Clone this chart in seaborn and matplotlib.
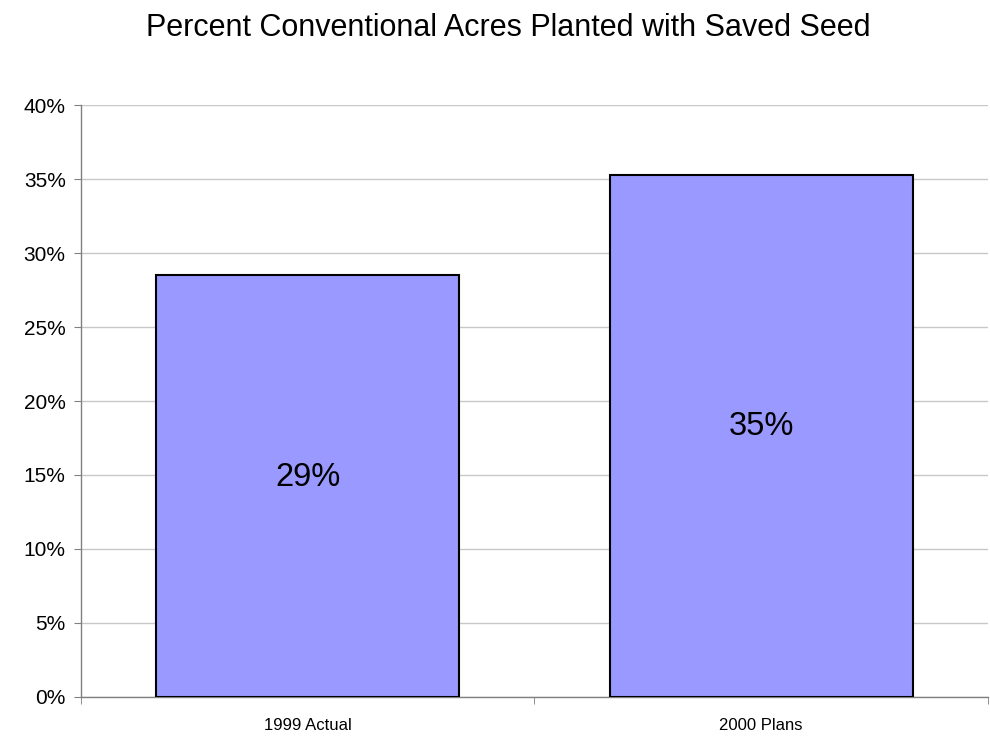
import matplotlib
matplotlib.use("Agg")
import matplotlib.pyplot as plt
import seaborn as sns
import pandas as pd
from matplotlib.ticker import PercentFormatter, FixedLocator

# Данные
categories = ["1999 Actual", "2000 Plans"]
values = [0.285, 0.353]
labels = ["29%", "35%"]

sns.set_style("white")
plt.rcParams["font.family"] = ["Liberation Sans", "DejaVu Sans"]
plt.rcParams["text.color"] = "black"
plt.rcParams["xtick.color"] = "black"
plt.rcParams["ytick.color"] = "black"

df = pd.DataFrame({"cat": categories, "val": values})

fig = plt.figure(figsize=(9.9, 7.37), dpi=100)
ax = fig.add_axes([0.0818, 0.0543, 0.916, 0.8032])

sns.barplot(data=df, x="cat", y="val", color="#9999FF", saturation=1,
            width=0.668, edgecolor="black", linewidth=1.5, ax=ax, zorder=3)

ax.set_ylim(0, 0.40)
ax.set_xlim(-0.5, 1.5)
ax.set_yticks([i * 0.05 for i in range(9)])
ax.yaxis.set_major_formatter(PercentFormatter(1.0, decimals=0))
ax.yaxis.grid(True, color="#c8c8c8", linewidth=1, zorder=0)
ax.set_axisbelow(True)

# подписи значений
for i, (v, lab) in enumerate(zip(values, labels)):
    ax.text(i, v / 2 + 0.006, lab, ha="center", va="center", fontsize=23.5, color="black")

ax.set_xlabel("")
ax.set_ylabel("")
ax.tick_params(axis="y", labelsize=15, length=5, color="#808080", labelcolor="black",
               direction="out", left=True, pad=6)
ax.tick_params(axis="x", which="major", labelsize=12, length=0, pad=15, labelcolor="black")
ax.xaxis.set_minor_locator(FixedLocator([-0.5, 0.5, 1.5]))
ax.tick_params(axis="x", which="minor", length=5, color="#808080", direction="out", bottom=True)

for s in ["top", "right"]:
    ax.spines[s].set_visible(False)
for s in ["left", "bottom"]:
    ax.spines[s].set_color("#808080")
    ax.spines[s].set_linewidth(1)

fig.text(0.513, 0.962, "Percent Conventional Acres Planted with Saved Seed",
         ha="center", va="center", fontsize=22, color="black")

fig.savefig("out.png", dpi=100)
